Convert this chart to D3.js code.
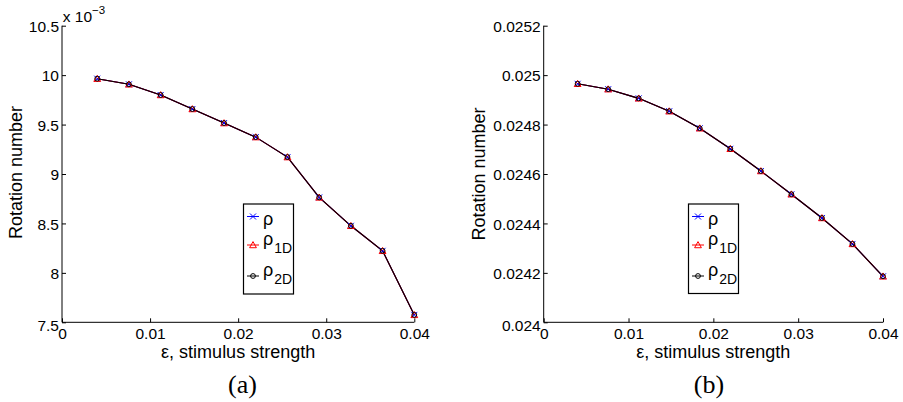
<!DOCTYPE html>
<html>
<head>
<meta charset="utf-8">
<script src="https://cdn.jsdelivr.net/npm/d3@7"></script>
<style>
  html, body { margin: 0; padding: 0; background: #fff; }
  svg { display: block; }
  text { fill: #000; }
</style>
</head>
<body>
<svg id="chart" width="903" height="402"></svg>
<script>
// ---------- data ----------
const epsilon = [0.004, 0.0076, 0.0112, 0.0148, 0.0184, 0.022, 0.0256, 0.0292, 0.0328, 0.0364, 0.04];

// panel (a): rotation number (displayed in units of 1e-3)
const rhoA   = [9.964e-3, 9.907e-3, 9.799e-3, 9.657e-3, 9.515e-3, 9.373e-3, 9.171e-3, 8.763e-3, 8.476e-3, 8.223e-3, 7.575e-3];
const rho1DA = [9.964e-3, 9.907e-3, 9.799e-3, 9.657e-3, 9.515e-3, 9.373e-3, 9.171e-3, 8.763e-3, 8.476e-3, 8.223e-3, 7.575e-3];
const rho2DA = [9.964e-3, 9.907e-3, 9.799e-3, 9.657e-3, 9.515e-3, 9.373e-3, 9.171e-3, 8.763e-3, 8.476e-3, 8.223e-3, 7.575e-3];

// panel (b)
const rhoB   = [0.024965, 0.024943, 0.024906, 0.024854, 0.024785, 0.024702, 0.024612, 0.024518, 0.024422, 0.024317, 0.024186];
const rho1DB = [0.024965, 0.024943, 0.024906, 0.024854, 0.024785, 0.024702, 0.024612, 0.024518, 0.024422, 0.024317, 0.024186];
const rho2DB = [0.024965, 0.024943, 0.024906, 0.024854, 0.024785, 0.024702, 0.024612, 0.024518, 0.024422, 0.024317, 0.024186];

const xTicks = [0, 0.01, 0.02, 0.03, 0.04];
const xTickLabels = ["0", "0.01", "0.02", "0.03", "0.04"];
const yTicksA = [7.5e-3, 8e-3, 8.5e-3, 9e-3, 9.5e-3, 10e-3, 10.5e-3];
const yTickLabelsA = ["7.5", "8", "8.5", "9", "9.5", "10", "10.5"];
const yTicksB = [0.024, 0.0242, 0.0244, 0.0246, 0.0248, 0.025, 0.0252];
const yTickLabelsB = ["0.024", "0.0242", "0.0244", "0.0246", "0.0248", "0.025", "0.0252"];

const seriesNames = ["ρ", "ρ1D", "ρ2D"];
const captions = ["(a)", "(b)"];
const xLabel = "ε, stimulus strength";
const yLabel = "Rotation number";

// ---------- layout ----------
const SANS = "'Liberation Sans', Arial, Helvetica, sans-serif";
const SERIF = "'Liberation Serif', 'DejaVu Serif', serif";
const svg = d3.select("#chart").style("font-family", SANS);
const colors = ["#0000ff", "#ff0000", "#000000"];

const panels = [
  { x0: 62, x1: 414.3, y0: 25.7, y1: 322.3, yDomain: [7.5e-3, 10.5e-3],
    yTicks: yTicksA, yLabels: yTickLabelsA, series: [rhoA, rho1DA, rho2DA],
    legend: { x: 243.5, y: 204, w: 50, h: 90 }, caption: captions[0], capX: 242.5,
    yLabX: 21.7, yLabY: 172.5, multiplier: true },
  { x0: 543.7, x1: 883, y0: 25.7, y1: 322.3, yDomain: [0.024, 0.0252],
    yTicks: yTicksB, yLabels: yTickLabelsB, series: [rhoB, rho1DB, rho2DB],
    legend: { x: 688.5, y: 204, w: 50, h: 89.5 }, caption: captions[1], capX: 709,
    yLabX: 485, yLabY: 174, multiplier: false }
];

function drawMarker(g, kind, cx, cy, color) {
  if (kind === 0) {
    const s = 3;
    g.append("path")
      .attr("d", `M${cx - s},${cy - s}L${cx + s},${cy + s}M${cx - s},${cy + s}L${cx + s},${cy - s}`)
      .attr("stroke", color).attr("stroke-width", 1).attr("fill", "none");
  } else if (kind === 1) {
    const s = 3.4;
    g.append("path")
      .attr("d", `M${cx},${cy - s}L${cx + s},${cy + s * 0.8}L${cx - s},${cy + s * 0.8}Z`)
      .attr("stroke", color).attr("stroke-width", 1).attr("fill", "none");
  } else {
    g.append("circle").attr("cx", cx).attr("cy", cy).attr("r", 2.4)
      .attr("stroke", color).attr("stroke-width", 1).attr("fill", "none");
  }
}

panels.forEach(p => {
  const x = d3.scaleLinear().domain([0, 0.04]).range([p.x0, p.x1]);
  const y = d3.scaleLinear().domain(p.yDomain).range([p.y1, p.y0]);
  const g = svg.append("g");

  // x axis (ticks inward)
  const xAxis = d3.axisBottom(x).tickValues(xTicks).tickSize(-4).tickPadding(7)
    .tickFormat((d, i) => xTickLabels[i]);
  const gx = g.append("g").attr("transform", `translate(0,${p.y1})`).call(xAxis)
    .attr("font-family", null);
  gx.select(".domain").attr("stroke", "#000").attr("stroke-width", 1)
    .attr("d", `M${p.x0},0H${p.x1}`);
  gx.selectAll(".tick line").attr("stroke", "#000");
  gx.selectAll(".tick text").attr("font-size", 15.5).style("font-family", SANS)
    .attr("dy", "0.72em").attr("y", 6);

  // y axis (ticks inward)
  const yAxis = d3.axisLeft(y).tickValues(p.yTicks).tickSize(-4).tickPadding(7)
    .tickFormat((d, i) => p.yLabels[i]);
  const gy = g.append("g").attr("transform", `translate(${p.x0},0)`).call(yAxis)
    .attr("font-family", null);
  gy.select(".domain").attr("stroke", "#000").attr("stroke-width", 1)
    .attr("d", `M0,${p.y0}V${p.y1}`);
  gy.selectAll(".tick line").attr("stroke", "#000");
  gy.selectAll(".tick text").attr("font-size", 15.5).style("font-family", SANS)
    .attr("x", -3).attr("dy", (d, i) => i === 0 ? "0.55em" : "0.36em");

  // series lines + markers
  const line = d3.line().x((d, i) => x(epsilon[i])).y(d => y(d));
  p.series.forEach((s, k) => {
    g.append("path").datum(s).attr("d", line)
      .attr("fill", "none").attr("stroke", colors[k]).attr("stroke-width", 1.1);
  });
  p.series.forEach((s, k) => {
    s.forEach((v, i) => drawMarker(g, k, x(epsilon[i]), y(v), colors[k]));
  });

  // axis labels
  g.append("text").attr("x", (p.x0 + p.x1) / 2).attr("y", 357.5)
    .attr("text-anchor", "middle").attr("font-size", 18).style("font-family", SANS).text(xLabel);
  g.append("text").attr("transform", `translate(${p.yLabX},${p.yLabY}) rotate(-90)`)
    .attr("text-anchor", "middle").attr("font-size", 18).style("font-family", SANS).text(yLabel);

  // multiplier
  if (p.multiplier) {
    const t = g.append("text").attr("x", p.x0 + 0.8).attr("y", 22).attr("font-size", 15.5)
      .style("font-family", SANS);
    t.append("tspan").text("x 10");
    t.append("tspan").attr("font-size", 11.5).attr("dy", -8).text("−3");
  }

  // legend
  const L = p.legend;
  const lg = g.append("g");
  lg.append("rect").attr("x", L.x).attr("y", L.y).attr("width", L.w).attr("height", L.h)
    .attr("fill", "#fff").attr("stroke", "#000").attr("stroke-width", 1.2);
  const entryY = [L.y + 12.5, L.y + 41, L.y + 72];
  seriesNames.forEach((name, k) => {
    const ly = entryY[k];
    lg.append("line").attr("x1", L.x + 3.5).attr("x2", L.x + 15.5).attr("y1", ly).attr("y2", ly)
      .attr("stroke", colors[k]).attr("stroke-width", 1);
    drawMarker(lg, k, L.x + 9.5, ly, colors[k]);
    const t = lg.append("text").attr("x", L.x + 19.5).attr("font-size", 18).style("font-family", SANS);
    if (k === 0) {
      t.attr("y", ly + 8).text(name);
    } else {
      t.attr("y", ly);
      t.append("tspan").text("ρ");
      t.append("tspan").attr("font-size", 14).attr("dx", 1).attr("dy", 7.5).text(name.slice(1));
    }
  });

  // caption
  g.append("text").attr("x", p.capX).attr("y", 393).attr("text-anchor", "middle")
    .attr("font-size", 26).style("font-family", SERIF)
    .text(p.caption);
});
</script>
</body>
</html>
